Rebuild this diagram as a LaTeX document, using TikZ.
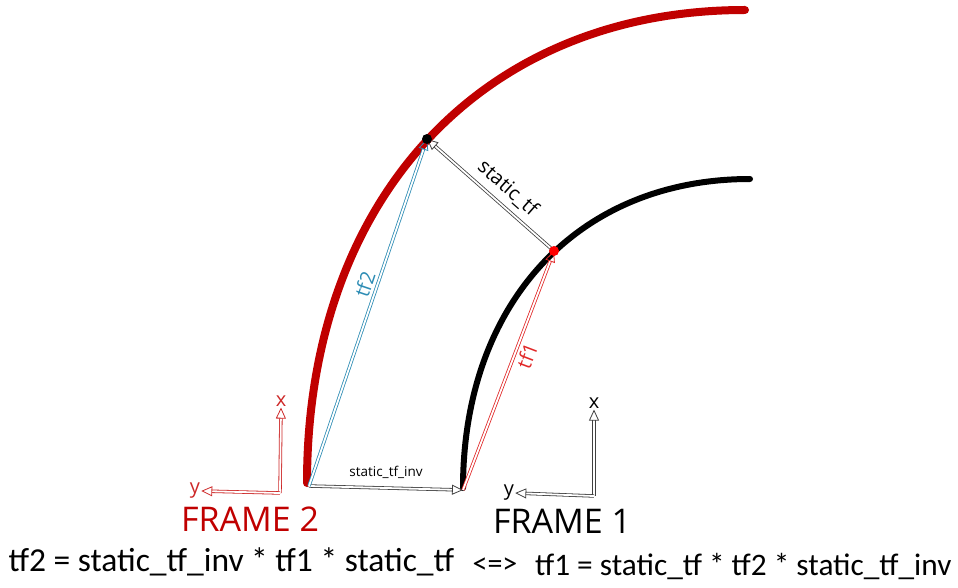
\documentclass[tikz,border=0pt]{standalone}
\usepackage{fontspec}
\setmainfont{Open Sans}
\newfontfamily\eqfont{Carlito}
\usetikzlibrary{arrows.meta}
\definecolor{framered}{RGB}{192,0,0}
\definecolor{axisred}{RGB}{205,40,40}
\definecolor{tfblue}{RGB}{45,140,180}
\definecolor{tfred}{RGB}{225,40,40}
\begin{document}
\begin{tikzpicture}[x=1pt,y=-1pt,
  dbl/.style={double, double distance=1.8pt, line width=0.8pt,
    -{Triangle[open, length=11pt, width=10pt, line width=0.8pt]}},
  lbl/.style={inner sep=1pt, font=\fontsize{20}{20}\selectfont},
  framelbl/.style={font=\fontsize{34}{34}\selectfont}]
\useasboundingbox (0,0) rectangle (958,588);
% the two paths
\draw[framered, line width=8pt, line cap=round] (307,483) .. controls (307,199) and (482,10) .. (745,10);
\draw[black, line width=6pt, line cap=round] (463,488) .. controls (463,303) and (578,179) .. (750,179);
% points on the paths
\coordinate (o2) at (309,486);
\coordinate (o1) at (463,490);
\coordinate (p2) at (427,139);
\coordinate (p1) at (554,251);
% transforms
\draw[dbl, black!75] (o2) -- (o1) node[midway, above=6pt, font=\fontsize{13.5}{13.5}\selectfont, black] {static\_tf\_inv};
\draw[dbl, tfblue] (o2) -- (p2) node[pos=0.57, sloped, above=3pt, lbl, tfblue] {tf2};
\draw[dbl, tfred] (o1) -- (p1) node[pos=0.58, sloped, below=3pt, lbl, tfred] {tf1};
\draw[dbl, black!75] (p1) -- (p2) node[pos=0.45, sloped, above=6pt, lbl, black] {static\_tf};
\fill[black] (p2) circle (5);
\fill[red] (p1) circle (5);
% frame 2 axes
\coordinate (f2) at (280,493);
\node[lbl, axisred] (f2x) at (281,401) {x};
\node[lbl, axisred] (f2y) at (195,491) {y};
\draw[dbl, axisred] (f2) -- (f2x.south);
\draw[dbl, axisred] (f2) -- (f2y.east);
\node[framelbl, framered] (frame2) at (250,519) {FRAME 2};
% frame 1 axes
\coordinate (f1) at (594,496);
\node[lbl] (f1x) at (594,403) {x};
\node[lbl] (f1y) at (509,493) {y};
\draw[dbl, black!75] (f1) -- (f1x.south);
\draw[dbl, black!75] (f1) -- (f1y.east);
\node[framelbl] (frame1) at (562,521) {FRAME 1};
% equations
\node[font=\eqfont\fontsize{33.5}{33.5}\selectfont, anchor=west] (eq2) at (5,562) {tf2 = static\_tf\_inv * tf1 * static\_tf};
\node[font=\eqfont\fontsize{30}{30}\selectfont] (equiv) at (495,566) {<=>};
\node[font=\eqfont\fontsize{31.3}{31.3}\selectfont, anchor=east] (eq1) at (955,566) {tf1 = static\_tf * tf2 * static\_tf\_inv};
\end{tikzpicture}
\end{document}
